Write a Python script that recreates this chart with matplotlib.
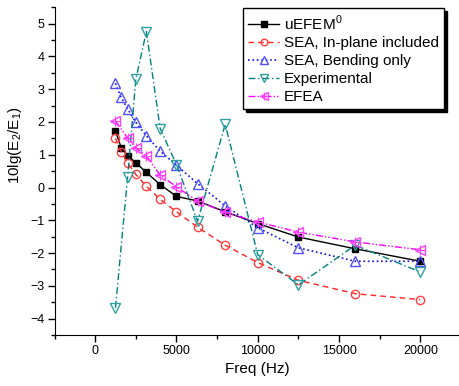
import matplotlib
matplotlib.use("Agg")
import matplotlib.pyplot as plt
from matplotlib.ticker import MultipleLocator
from matplotlib.legend_handler import HandlerTuple

plt.rcParams['font.family'] = ['Liberation Sans', 'DejaVu Sans']
plt.rcParams['mathtext.fontset'] = 'custom'
plt.rcParams['mathtext.rm'] = 'Liberation Sans'

# 1/3 octave band centre frequencies (Hz)
freq = [1250, 1600, 2000, 2500, 3150, 4000, 5000, 6300, 8000, 10000, 12500, 16000, 20000]
freq_exp = [1250, 2000, 2500, 3150, 4000, 5000, 6300, 8000, 10000, 12500, 16000, 20000]
freq_efea = [1250, 2000, 2500, 3150, 4000, 5000, 6300, 8000, 10000, 12500, 16000, 20000]

uefem = [1.72, 1.22, 0.97, 0.76, 0.46, 0.09, -0.27, -0.41, -0.74, -1.10, -1.51, -1.87, -2.25]
sea_inplane = [1.50, 1.09, 0.75, 0.40, 0.04, -0.36, -0.74, -1.21, -1.76, -2.29, -2.83, -3.24, -3.42]
sea_bending = [3.18, 2.75, 2.40, 1.99, 1.58, 1.11, 0.68, 0.12, -0.56, -1.23, -1.84, -2.25, -2.25]
experimental = [-3.67, 0.33, 3.30, 4.76, 1.80, 0.70, -1.03, 1.93, -2.05, -2.97, -1.76, -2.58]
efea = [2.03, 1.51, 1.21, 0.96, 0.38, 0.02, -0.41, -0.76, -1.05, -1.36, -1.66, -1.90]

fig = plt.figure(figsize=(4.59, 3.86), dpi=100)
ax = fig.add_axes([54.5 / 459, 51 / 386, 406.5 / 459, 327.7 / 386])

l1, = ax.plot(freq, uefem, '-', color='k', lw=1, marker='s', ms=5,
              mfc='k', mec='k')
l2, = ax.plot(freq, sea_inplane, '--', color='#ff2020', lw=1, marker='o', ms=6,
              mfc='none', mec='#ff4040', dashes=(4, 3))
l3, = ax.plot(freq, sea_bending, ':', color='#1010ee', lw=1.2, marker='^', ms=7,
              mfc='none', mec='#5050ff')
l4, = ax.plot(freq_exp, experimental, '-.', color='#008080', lw=1, marker='v', ms=7,
              mfc='none', mec='#30a0a0', dashes=(5, 2, 1, 2))
l5, = ax.plot(freq_efea, efea, color='#ff00ff', lw=1, marker='<', ms=7,
              mfc='none', mec='#ff40ff', dashes=(5, 1.5, 1, 1.5, 1, 1.5))
l5b, = ax.plot(freq_efea, efea, ls='none', marker='+', ms=7, mec='#ff40ff', mew=0.8)

ax.set_xlim(-2500, 22500)
ax.set_ylim(-4.5, 5.5)
ax.xaxis.set_major_locator(MultipleLocator(5000))
ax.xaxis.set_minor_locator(MultipleLocator(2500))
ax.yaxis.set_major_locator(MultipleLocator(1))
ax.yaxis.set_minor_locator(MultipleLocator(0.5))
ax.set_xticks([0, 5000, 10000, 15000, 20000])
ax.spines['top'].set_visible(False)
ax.spines['right'].set_visible(False)
ax.tick_params(which='major', direction='out', length=5, width=1, labelsize=9, pad=2)
ax.tick_params(which='minor', direction='out', length=3, width=1)

ax.set_xlabel('Freq (Hz)', fontsize=11, labelpad=4)
ax.set_ylabel(r'10lg(E$_\mathregular{2}$/E$_\mathregular{1}$)', fontsize=11)
ax.yaxis.set_label_coords(-0.075, 0.58)

leg = ax.legend([l1, l2, l3, l4, (l5, l5b)],
                [r'uEFEM$^\mathregular{0}$', 'SEA, In-plane included', 'SEA, Bending only',
                 'Experimental', 'EFEA'],
                handler_map={tuple: HandlerTuple(ndivide=1, pad=0)},
                loc='upper left', bbox_to_anchor=(0.464, 0.998), borderaxespad=0,
                fontsize=11, frameon=True, fancybox=False, edgecolor='k',
                shadow={'color': 'k', 'alpha': 1}, handlelength=2.0,
                handletextpad=0.3, borderpad=0.35, labelspacing=0.25, markerscale=0.8)
leg.get_frame().set_linewidth(1)

fig.savefig('out.png', dpi=100)
